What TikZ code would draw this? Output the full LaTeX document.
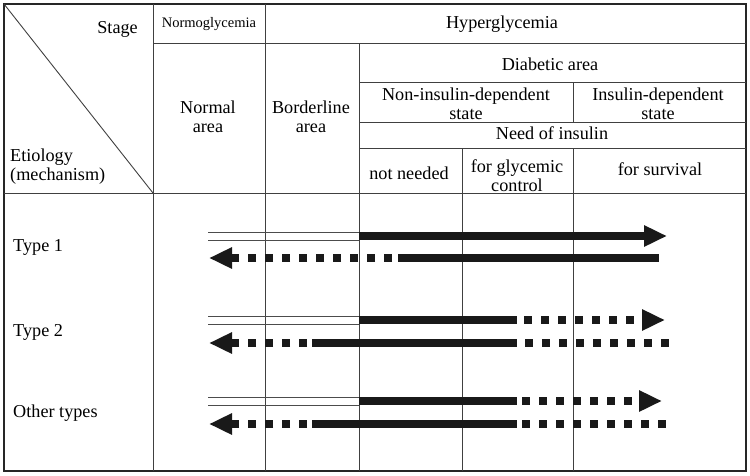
\documentclass[tikz,border=0pt]{standalone}
\usepackage{fontspec}
\setmainfont{Liberation Serif}
\usetikzlibrary{arrows.meta}

\begin{document}
\begin{tikzpicture}[
  x=1pt, y=-1pt,
  every node/.style={font=\fontsize{18.2}{19}\selectfont, inner sep=0pt},
  frame/.style={line width=2pt, draw=black!85},
  rule/.style={line width=0.9pt, draw=black!75},
  thinpair/.style={line width=0.9pt, draw=black!70},
  bar/.style={line width=8pt, draw=black!90},
  dotbar/.style={bar, dash pattern=on 8pt off 9pt},
  head/.style={-{Triangle[length=23pt,width=20pt]}}]
  \useasboundingbox (0,0) rectangle (750,475);
  % table frame
  \draw[frame] (4,4) rectangle (746,471);
  \draw[rule] (4,4) -- (153,193);
  \draw[rule] (153,4) -- (153,471);
  \draw[rule] (265,4) -- (265,471);
  \draw[rule] (359,43) -- (359,471);
  \draw[rule] (462,148) -- (462,471);
  \draw[rule] (573,82) -- (573,122);
  \draw[rule] (573,148) -- (573,471);
  \draw[rule] (153,43) -- (746,43);
  \draw[rule] (359,82) -- (746,82);
  \draw[rule] (359,122) -- (746,122);
  \draw[rule] (359,148) -- (746,148);
  \draw[rule] (4,193) -- (746,193);
  % header texts
  \node[anchor=base east] (stage) at (138,33) {Stage};
  \node[anchor=base, font=\fontsize{14.5}{16}\selectfont] (normo) at (209,27) {Normoglycemia};
  \node[anchor=base] (hyper) at (502,28) {Hyperglycemia};
  \node[align=center] (normal) at (208,117) {Normal\\area};
  \node[align=center] (border) at (311,117) {Borderline\\area};
  \node[anchor=base] (diab) at (550,70) {Diabetic area};
  \node[align=center] (nid) at (466,104) {Non-insulin-dependent\\state};
  \node[align=center] (idep) at (658,104) {Insulin-dependent\\state};
  \node[anchor=base] (need) at (552,139) {Need of insulin};
  \node[anchor=base] (notneed) at (409,179) {not needed};
  \node[align=center] (glyc) at (517,176) {for glycemic\\control};
  \node[anchor=base] (surv) at (660,175) {for survival};
  \node[align=left, anchor=west] (etio) at (10,167) {Etiology\\(mechanism)};
  % row labels
  \node[anchor=base west] (type1) at (13,251) {Type 1};
  \node[anchor=base west] (type2) at (13,336) {Type 2};
  \node[anchor=base west] (other) at (13,417) {Other types};
  % Type 1
  \coordinate (t1s) at (208,236);
  \coordinate (t1d) at (359,236);
  \coordinate (t1e) at (667,236);
  \coordinate (t1l) at (209,258);
  \coordinate (t1k) at (392,258);
  \coordinate (t1m) at (398,258);
  \coordinate (t1r) at (659,258);
  \draw[thinpair] ([yshift=4pt]t1s) -- ([yshift=4pt]t1d);
  \draw[thinpair] ([yshift=-4pt]t1s) -- ([yshift=-4pt]t1d);
  \draw[bar, head] (t1d) -- (t1e);
  \draw[bar] (t1m) -- (t1r);
  \draw[dotbar, head] (t1k) -- (t1l);
  % Type 2
  \coordinate (t2s) at (208,320);
  \coordinate (t2d) at (359,320);
  \coordinate (t2g) at (517,320);
  \coordinate (t2h) at (524,320);
  \coordinate (t2e) at (665,320);
  \coordinate (t2l) at (209,343);
  \coordinate (t2k) at (307,343);
  \coordinate (t2m) at (312,343);
  \coordinate (t2n) at (517,343);
  \coordinate (t2o) at (525,343);
  \coordinate (t2r) at (669,343);
  \draw[thinpair] ([yshift=4pt]t2s) -- ([yshift=4pt]t2d);
  \draw[thinpair] ([yshift=-4pt]t2s) -- ([yshift=-4pt]t2d);
  \draw[bar] (t2d) -- (t2g);
  \draw[dotbar, head] (t2h) -- (t2e);
  \draw[dotbar, head] (t2k) -- (t2l);
  \draw[bar] (t2m) -- (t2n);
  \draw[dotbar] (t2o) -- (t2r);
  % Other types
  \coordinate (t3s) at (208,401);
  \coordinate (t3d) at (359,401);
  \coordinate (t3g) at (517,401);
  \coordinate (t3h) at (522,401);
  \coordinate (t3e) at (662,401);
  \coordinate (t3l) at (209,424);
  \coordinate (t3k) at (307,424);
  \coordinate (t3m) at (312,424);
  \coordinate (t3n) at (517,424);
  \coordinate (t3o) at (522,424);
  \coordinate (t3r) at (666,424);
  \draw[thinpair] ([yshift=4pt]t3s) -- ([yshift=4pt]t3d);
  \draw[thinpair] ([yshift=-4pt]t3s) -- ([yshift=-4pt]t3d);
  \draw[bar] (t3d) -- (t3g);
  \draw[dotbar, head] (t3h) -- (t3e);
  \draw[dotbar, head] (t3k) -- (t3l);
  \draw[bar] (t3m) -- (t3n);
  \draw[dotbar] (t3o) -- (t3r);
\end{tikzpicture}
\end{document}
